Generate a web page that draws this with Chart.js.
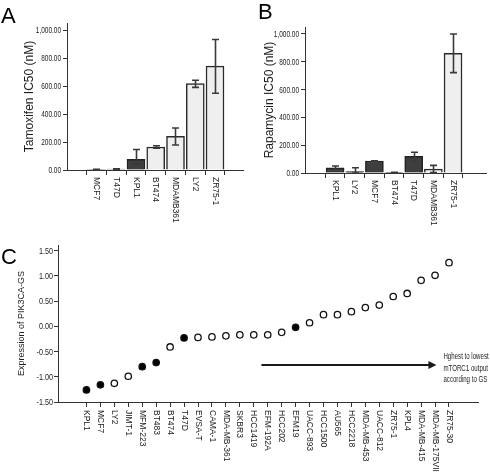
<!DOCTYPE html>
<html><head><meta charset="utf-8">
<script src="https://cdn.jsdelivr.net/npm/chart.js@4.4.1/dist/chart.umd.min.js"></script>
<style>
html,body{margin:0;padding:0;background:#fff;}
#wrap{position:relative;width:490px;height:472px;overflow:hidden;background:#fff}
canvas{position:absolute;display:block}
</style></head><body>
<div id="wrap">
<canvas id="cA" width="245" height="232" style="left:0;top:0"></canvas>
<canvas id="cB" width="245" height="232" style="left:245px;top:0"></canvas>
<canvas id="cC" width="490" height="244" style="left:0;top:228px"></canvas>
</div>
<script>
// ---------- Data ----------
// Panel A: Tamoxifen IC50 (nM)
const tamCategories = ['MCF7','T47D','KPL1','BT474','MDAMB361','LY2','ZR75-1'];
const tamValues     = [4, 7, 77, 164, 240, 617, 742];
const tamErrLow     = [3, 5, 44, 155, 179, 590, 548];
const tamErrHigh    = [5, 9, 146, 173, 300, 641, 932];
const tamDark       = ['KPL1'];
const tamTicks      = [0, 200, 400, 600, 800, 1000];

// Panel B: Rapamycin IC50 (nM)
const rapCategories = ['KPL1','LY2','MCF7','BT474','T47D','MDAMB361','ZR75-1'];
const rapValues     = [38, 10, 86, 4, 120, 29, 861];
const rapErrLow     = [24, 0, 84, 3, 86, 3, 722];
const rapErrHigh    = [50, 38, 88, 5, 149, 55, 1000];
const rapDark       = ['KPL1','LY2','MCF7','BT474','T47D'];
const rapTicks      = [0, 200, 400, 600, 800, 1000];

// Panel C: Expression of PIK3CA-GS
const gsCategories = ['KPL1','MCF7','LY2','JIMT-1','MFM-223','BT483','BT474','T47D','EVSA-T','CAMA-1',
  'MDA-MB-361','SKBR3','HCC1419','EFM-192A','HCC202','EFM19','UACC-893','HCC1500','AU565','HCC2218',
  'MDA-MB-453','UACC-812','ZR75-1','KPL4','MDA-MB-415','MDA-MB-175VII','ZR75-30'];
const gsValues = [-1.26,-1.16,-1.13,-0.99,-0.80,-0.72,-0.41,-0.23,-0.22,-0.21,
  -0.19,-0.17,-0.17,-0.17,-0.12,-0.02,0.07,0.23,0.23,0.29,
  0.37,0.42,0.59,0.65,0.91,1.01,1.26];
const gsFilled = ['KPL1','MCF7','MFM-223','BT483','T47D','EFM19'];
const gsTicks  = [-1.5,-1.0,-0.5,0,0.5,1.0,1.5];
const gsNote   = ['Hghest to lowest','mTORC1 output','according to GS'];

// ---------- Styling ----------
const SANS = "'Liberation Sans',Arial,Helvetica,sans-serif";
const INK = '#1c1c1c';
const AXIS = '#333333';
const fmt2 = v => Number(v).toLocaleString('en-US',{minimumFractionDigits:2, maximumFractionDigits:2});

function letterPlugin(text, x, y){
  return { id:'letter'+text, afterDraw(chart){
    const ctx = chart.ctx; ctx.save();
    ctx.fillStyle = '#000'; ctx.font = '22px ' + SANS;
    ctx.textAlign = 'left'; ctx.textBaseline = 'alphabetic';
    ctx.fillText(text, x, y); ctx.restore();
  }};
}
// condensed y tick labels, placed at the library's own tick positions
function yLabelPlugin(fmt, size, sx, gap){
  return { id:'yLabels', afterDraw(chart){
    const s = chart.scales.y, ctx = chart.ctx;
    ctx.save(); ctx.fillStyle = INK; ctx.font = size + 'px ' + SANS;
    ctx.textAlign = 'right'; ctx.textBaseline = 'middle';
    s.ticks.forEach(t => {
      const y = s.getPixelForValue(t.value);
      ctx.save(); ctx.translate(s.right - gap, y + 0.5); ctx.scale(sx, 1);
      ctx.fillText(fmt(t.value), 0, 0); ctx.restore();
    });
    ctx.restore();
  }};
}
function rotLabelPlugin(labels, size, offset){
  return { id:'rotLabels', afterDraw(chart){
    const s = chart.scales.x, ctx = chart.ctx;
    ctx.save(); ctx.fillStyle = INK; ctx.font = size + 'px ' + SANS;
    ctx.textAlign = 'left'; ctx.textBaseline = 'middle';
    labels.forEach((lab, i) => {
      const x = s.getPixelForValue(i);
      ctx.save(); ctx.translate(x, s.top + offset); ctx.rotate(Math.PI/2);
      ctx.fillText(lab, 0, 0); ctx.restore();
    });
    ctx.restore();
  }};
}
function errorPlugin(low, high){
  return { id:'errorBars', afterDatasetsDraw(chart){
    const xs = chart.scales.x, ys = chart.scales.y, ctx = chart.ctx;
    ctx.save(); ctx.strokeStyle = '#3a3a3a'; ctx.lineWidth = 1.6;
    low.forEach((lo, i) => {
      const x = Math.round(xs.getPixelForValue(i)) + 0.5;
      const y1 = ys.getPixelForValue(lo), y2 = ys.getPixelForValue(high[i]);
      ctx.beginPath(); ctx.moveTo(x, y1); ctx.lineTo(x, y2);
      ctx.moveTo(x-3.5, y1); ctx.lineTo(x+3.5, y1);
      ctx.moveTo(x-3.5, y2); ctx.lineTo(x+3.5, y2);
      ctx.stroke();
    });
    ctx.restore();
  }};
}

function barChart(id, cats, vals, low, high, dark, yTicks, title, opt){
  return new Chart(document.getElementById(id), {
    type: 'bar',
    data: { datasets: [{
      data: cats.map((c, i) => ({x: i, y: vals[i]})),
      backgroundColor: cats.map(c => dark.includes(c) ? '#3e3e3e' : '#efefef'),
      borderColor: cats.map(c => dark.includes(c) ? '#222' : '#2a2a2a'),
      borderWidth: 1.5,
      barThickness: 18
    }]},
    options: {
      responsive: false, animation: false, devicePixelRatio: 1,
      layout: { padding: { top: opt.top, right: opt.right, left: 0, bottom: 0 } },
      plugins: { legend: {display:false}, tooltip: {enabled:false} },
      scales: {
        x: { type:'linear', min: opt.xMin, max: opt.xMax,
             afterBuildTicks(s){ s.ticks = cats.map((c, i) => ({value: i})); },
             ticks: { display:false },
             grid: { drawOnChartArea:false, drawTicks:true, tickLength:5, tickColor:AXIS, lineWidth:1 },
             border: { display:true, color:AXIS, width:1 },
             afterFit(s){ s.height = opt.xH; } },
        y: { min:0, max:1050,
             afterBuildTicks(s){ s.ticks = yTicks.map(v => ({value: v})); },
             ticks: { display:false },
             grid: { drawOnChartArea:false, drawTicks:true, tickLength:4, tickColor:AXIS },
             border: { display:true, color:AXIS, width:1 },
             title: { display:true, text:title, color:INK, font:{family:SANS, size:12}, padding:{top:opt.titlePad, bottom:0} },
             afterFit(s){ s.width = opt.yW; } }
      }
    },
    plugins: [errorPlugin(low, high), yLabelPlugin(fmt2, 9, 0.72, 6), rotLabelPlugin(cats, 8.5, 7), letterPlugin(opt.letter, opt.lx, opt.ly)]
  });
}

barChart('cA', tamCategories, tamValues, tamErrLow, tamErrHigh, tamDark, tamTicks, 'Tamoxifen IC50 (nM)',
  {top:23, right:2, xH:62, yW:67, xMin:-0.855, xMax:6.78, titlePad:22.8, letter:'A', lx:1, ly:23});
barChart('cB', rapCategories, rapValues, rapErrLow, rapErrHigh, rapDark, rapTicks, 'Rapamycin IC50 (nM)',
  {top:27, right:4, xH:59, yW:60, xMin:-0.873, xMax:7.02, titlePad:17.8, letter:'B', lx:13, ly:19});

// Panel C
const arrowPlugin = { id:'arrowNote', afterDraw(chart){
  const xs = chart.scales.x, ys = chart.scales.y, ctx = chart.ctx;
  const x1 = xs.getPixelForValue(12.55), x2 = xs.getPixelForValue(25.1), y = Math.round(ys.getPixelForValue(-0.76));
  ctx.save();
  ctx.strokeStyle = '#1a1a1a'; ctx.fillStyle = '#1a1a1a'; ctx.lineWidth = 2;
  ctx.beginPath(); ctx.moveTo(x1, y); ctx.lineTo(x2 - 6, y); ctx.stroke();
  ctx.beginPath(); ctx.moveTo(x2, y); ctx.lineTo(x2 - 8, y - 4); ctx.lineTo(x2 - 8, y + 4); ctx.closePath(); ctx.fill();
  ctx.font = '9px ' + SANS; ctx.textAlign = 'left'; ctx.textBaseline = 'alphabetic'; ctx.fillStyle = INK;
  const base = [y - 6.5, y + 5.5, y + 17];
  gsNote.forEach((t, i) => { ctx.save(); ctx.translate(x2 + 7, base[i]); ctx.scale(0.68, 1); ctx.fillText(t, 0, 0); ctx.restore(); });
  ctx.restore();
}};

new Chart(document.getElementById('cC'), {
  type: 'scatter',
  data: { datasets: [{
    data: gsCategories.map((c, i) => ({x: i, y: gsValues[i]})),
    pointRadius: 3.2,
    pointBackgroundColor: gsCategories.map(c => gsFilled.includes(c) ? '#000' : '#fff'),
    pointBorderColor: '#111',
    pointBorderWidth: 1.3,
    showLine: false
  }]},
  options: {
    responsive: false, animation: false, devicePixelRatio: 1,
    layout: { padding: { top: 17, right: 12, left: 0, bottom: 0 } },
    plugins: { legend: {display:false}, tooltip: {enabled:false} },
    scales: {
      x: { type:'linear', min:-2.04, max:28.08,
           afterBuildTicks(s){ s.ticks = gsCategories.map((c, i) => ({value: i})); },
           ticks: { display:false },
           grid: { drawOnChartArea:false, drawTicks:true, tickLength:5, tickColor:AXIS },
           border: { display:true, color:AXIS, width:1 },
           afterFit(s){ s.height = 70; } },
      y: { min:-1.5, max:1.61,
           afterBuildTicks(s){ s.ticks = gsTicks.map(v => ({value: v})); },
           ticks: { display:false },
           grid: { drawOnChartArea:false, drawTicks:true, tickLength:4, tickColor:AXIS },
           border: { display:true, color:AXIS, width:1 },
           title: { display:true, text:'Expression of PIK3CA-GS', color:INK, font:{family:SANS, size:9}, padding:{top:16.3, bottom:0} },
           afterFit(s){ s.width = 58; } }
    }
  },
  plugins: [yLabelPlugin(v => Number(v).toFixed(2), 9, 0.8, 5), rotLabelPlugin(gsCategories, 8.5, 8), arrowPlugin, letterPlugin('C', 1, 36)]
});
</script>
</body></html>
